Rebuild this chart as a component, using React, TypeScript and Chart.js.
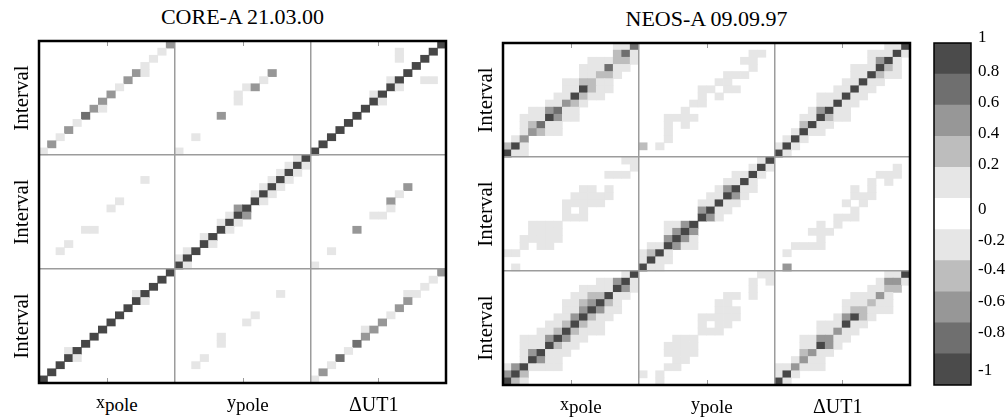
import React, { useEffect, useRef } from "react";
import { Chart, registerables } from "chart.js";

Chart.register(...registerables);

// ---------------- data ----------------
const panelTitles = ["CORE-A 21.03.00", "NEOS-A 09.09.97"];
const blockNames = ["x", "y", "ΔUT1"];
const blockSubscripts = ["pole", "pole", ""];
const rowAxisLabel = "Interval";
const intervalsPerBlock = 16;

// level code in the grids below -> correlation magnitude
const levelValues = [0, 0.15, 0.3, 0.5, 0.7, 0.95];

// colour bar
const colorbarTickValues = [1, 0.8, 0.6, 0.4, 0.2, 0, -0.2, -0.4, -0.6, -0.8, -1];
const colorbarTickPositions = [11.19, 10.07, 9.1, 8.1, 7.1, 5.63, 4.66, 3.7, 2.7, 1.7, 0.48];
const colorbarBands = [
  "#4b4b4b", "#6f6f6f", "#979797", "#bdbdbd", "#e6e6e6", "#ffffff",
  "#e6e6e6", "#bdbdbd", "#979797", "#6f6f6f", "#4b4b4b",
]; // top to bottom

// Correlation grids, top row first; columns x_pole | y_pole | ΔUT1 (16 intervals each)
// row blocks from top: ΔUT1, y_pole, x_pole
const coreARows = [
  "...............3 ................ ...............5",
  "..............1. ................ ..........1...5.",
  ".............1.. ................ ..........1..5..",
  "............1... ................ ............5...",
  "...........31... ...........3.... ...........5....",
  "..........3..... ..........1..... .........15..11.",
  ".........1...... ........13...... .........51.....",
  "........3....... .......1........ .......15.......",
  ".......3........ .......1........ .......51.......",
  "......31........ ................ ......5.........",
  ".....4.......... .....3.......... .....5..........",
  "....1........... ................ ....5...........",
  "...3............ ................ ...5............",
  "..1............. ..1............. ..5.............",
  ".3.............. ................ .5..............",
  "1............... 1............... 5...............",
  "................ ..............15 ................",
  "................ .............151 ................",
  "................ ............151. ................",
  "............1... ...........151.. ................",
  "................ ..........151... ...........3....",
  "................ .........151.... ..........1.....",
  ".........1...... .........51..... .........3......",
  "........1....... .......35....... .........1......",
  "................ ......153....... .......11.......",
  "................ .....151........ ................",
  ".....11......... .....51......... .....3..........",
  "................ ...15........... ................",
  "...1............ ...51........... ................",
  "..1............. .15............. ..1.............",
  "................ 15.............. ................",
  "................ 51.............. 1...............",
  "...............5 ................ ...............3",
  "..............5. ................ ..............1.",
  ".............5.. ................ .............1..",
  "...........15... ............1... ...........11...",
  "...........51... ................ ...........3....",
  "..........5..... ................ ..........3.....",
  ".........5...... .........1...... .........1......",
  "........5....... ........1....... ........3.......",
  ".......5........ ................ ......13........",
  "......5......... .....1.......... ......3.........",
  ".....5.......... .....1.......... .....4..........",
  "...15........... ................ ....1...........",
  "...51........... ...1............ ...4............",
  "..5............. ..1............. ..1.............",
  ".5.............. ................ .3..............",
  "5............... ................ 1...............",
];

const neosARows = [
  ".............114 ................ .............115",
  ".............241 .............11. ...........11151",
  "..........111221 ............11.. ...........1351.",
  ".........111411. .............1.. .........111521.",
  ".........11221.. ..........111... .........115211.",
  ".......112211... .........11..... ........11511...",
  ".......115211... .......11.11.... .......11511....",
  "......115211.... .......1.1...... .....111511.....",
  ".....11321...... ......11........ .....11511......",
  "...113411....... .....1.......... ....13511.......",
  "..1115311....... ...1111......... ...115211.......",
  "..12411......... ...1.1.......... ...2511.........",
  "..13211......... ...1............ ..1511..........",
  ".13............. ...1............ .151............",
  "251............. 2.1............. 151.............",
  "511............. ................ 51..............",
  "..............11 ..............15 ................",
  "...............1 .............151 ..............1.",
  "............111. ...........1151. ............111.",
  "................ ..........1151.. ...........1.1..",
  ".........11.1... .........13511.. .........1.1....",
  "........11111... ........11531... .........111....",
  ".......11111.... .......11511.... ........1.1.....",
  ".......1.1...... .......3511..... .........1......",
  ".......111...... .......531...... .......111......",
  "...1111......... ...1135......... .....1.1........",
  "...1111......... ...1353......... ....111.........",
  "..11111......... ...3531......... .....1..........",
  "..1.11.......... .115311......... ..1111..........",
  "11.............. 1251............ .1..............",
  "................ 1511............ ................",
  ".1.............. 511............. .3..............",
  "..............15 ..............11 .............115",
  "...........11351 .............1.1 ............1331",
  ".........1111531 .............1.. ...........1122.",
  "........1122511. ..........11.1.. .........11131..",
  ".......1123521.. .........11..... ........111211..",
  ".......1135311.. .........111.... ........122111..",
  "......1135211... .......11111.... .......13521....",
  ".....1125211.... .......1.11..... .....111511.....",
  "....11252111.... .......111...... .....11311......",
  "..11135311...... ....111......... ...113311.......",
  "..1115211....... ...1111......... ...11531........",
  "..135111........ ...1111......... ...2311.........",
  "..15311......... ....11.......... ..1311..........",
  "1351111......... ...11........... 113111..........",
  "352............. 1.1............. 151.............",
  "521............. ..1............. 51..............",
];

// ---------------- layout / style ----------------
const FONT = '"Liberation Serif", "Times New Roman", serif';
const PLOT_W = 407;
const PLOT_H = 342;
const PAD = 10;
const panelLayout = [
  { left: 39, top: 41 },
  { left: 503, top: 43 },
];
const xLabelLeft = [57, 188, 310];
const GRID_COLOR = "#9c9c9c";
const CLEAR = "rgba(255,255,255,0)";

function shade(v: number): string {
  const a = Math.abs(v);
  if (a >= 0.8) return "#474747";
  if (a >= 0.6) return "#6f6f6f";
  if (a >= 0.4) return "#979797";
  if (a >= 0.2) return "#bdbdbd";
  if (a >= 0.1) return "#e6e6e6";
  return CLEAR;
}

// m[r][c], r counted from the bottom
function parseMatrix(rows: string[]): number[][] {
  const clean = rows.map((s) => s.replace(/ /g, ""));
  const parsed = clean.map((s) =>
    s.split("").map((ch) => (ch === "." ? 0 : levelValues[Number(ch)] ?? 0))
  );
  return parsed.reverse();
}

const framePlugin = {
  id: "frame",
  afterDraw(chart: any, _args: any, opts: any) {
    const { ctx, chartArea } = chart;
    const { left, top, right, bottom } = chartArea;
    ctx.save();
    if (opts && opts.blockTicks) {
      const xs = chart.scales.x;
      ctx.strokeStyle = GRID_COLOR;
      ctx.lineWidth = 1;
      for (let b = 0; b < 3; b++) {
        const px = Math.round(xs.getPixelForValue(b * intervalsPerBlock + 7.5)) + 0.5;
        ctx.beginPath();
        ctx.moveTo(px, top);
        ctx.lineTo(px, top + 5);
        ctx.moveTo(px, bottom);
        ctx.lineTo(px, bottom - 5);
        ctx.stroke();
      }
    }
    ctx.strokeStyle = "#000";
    ctx.lineWidth = (opts && opts.width) || 2.5;
    ctx.strokeRect(left, top, right - left, bottom - top);
    ctx.restore();
  },
};

function Heatmap({ rows }: { rows: string[] }) {
  const ref = useRef<HTMLCanvasElement | null>(null);
  useEffect(() => {
    if (!ref.current) return;
    const m = parseMatrix(rows);
    const n = m.length;
    const labels = m[0].map((_, c) => String(c + 1));
    const datasets = m.map((rowVals, r) => ({
      data: rowVals.map(() => [r, r + 1]),
      backgroundColor: rowVals.map(shade),
      borderWidth: 0,
      borderSkipped: false,
      barPercentage: 1,
      categoryPercentage: 1,
    }));
    const chart = new Chart(ref.current, {
      type: "bar",
      data: { labels, datasets: datasets as any },
      plugins: [framePlugin as any],
      options: {
        animation: false,
        responsive: false,
        layout: { padding: PAD },
        plugins: {
          legend: { display: false },
          tooltip: { enabled: false },
          frame: { blockTicks: true, width: 2.5 },
        } as any,
        scales: {
          x: {
            type: "category",
            stacked: true,
            offset: true,
            grid: {
              offset: true,
              z: 1,
              drawTicks: false,
              lineWidth: 1.5,
              color: (ctx: any) =>
                ctx.index > 0 && ctx.index < n && ctx.index % intervalsPerBlock === 0
                  ? GRID_COLOR
                  : CLEAR,
            },
            ticks: { display: false, autoSkip: false },
            border: { display: false },
          },
          y: {
            type: "linear",
            stacked: false,
            min: 0,
            max: n,
            grid: {
              z: 1,
              drawTicks: false,
              lineWidth: 1.5,
              color: (ctx: any) =>
                ctx.tick && ctx.tick.value > 0 && ctx.tick.value < n ? GRID_COLOR : CLEAR,
            },
            ticks: { display: false, stepSize: intervalsPerBlock },
            border: { display: false },
          },
        },
      } as any,
    });
    return () => chart.destroy();
  }, [rows]);
  return (
    <canvas
      ref={ref}
      width={PLOT_W + 2 * PAD}
      height={PLOT_H + 2 * PAD}
      style={{ width: PLOT_W + 2 * PAD, height: PLOT_H + 2 * PAD, display: "block" }}
    />
  );
}

function Colorbar() {
  const ref = useRef<HTMLCanvasElement | null>(null);
  useEffect(() => {
    if (!ref.current) return;
    const bottomUp = colorbarBands.slice().reverse();
    const datasets = bottomUp.map((color, i) => ({
      data: [[i, i + 1]],
      backgroundColor: color,
      borderWidth: 0,
      borderSkipped: false,
      barPercentage: 1,
      categoryPercentage: 1,
    }));
    const chart = new Chart(ref.current, {
      type: "bar",
      data: { labels: [""], datasets: datasets as any },
      plugins: [framePlugin as any],
      options: {
        animation: false,
        responsive: false,
        layout: { padding: { left: 10, right: 0, top: 43, bottom: 34 } },
        plugins: {
          legend: { display: false },
          tooltip: { enabled: false },
          frame: { blockTicks: false, width: 1.5 },
        } as any,
        scales: {
          x: { type: "category", stacked: true, display: false, offset: true },
          y: {
            type: "linear",
            position: "right",
            min: 0,
            max: colorbarBands.length,
            grid: { display: false, drawTicks: false },
            border: { display: false },
            afterBuildTicks: (scale: any) => {
              scale.ticks = colorbarTickPositions.map((v) => ({ value: v }));
            },
            afterFit: (scale: any) => {
              scale.width = 34;
            },
            ticks: {
              autoSkip: false,
              padding: 7,
              color: "#000",
              font: { family: FONT, size: 17 },
              callback: (_v: any, i: number) => String(colorbarTickValues[i]),
            },
          },
        },
      } as any,
    });
    return () => chart.destroy();
  }, []);
  return (
    <canvas ref={ref} width={81} height={419} style={{ width: 81, height: 419, display: "block" }} />
  );
}

export default function App() {
  const grids = [coreARows, neosARows];
  const blockH = PLOT_H / 3;
  return (
    <div
      style={{
        position: "absolute",
        left: 0,
        top: 0,
        width: 1005,
        height: 419,
        overflow: "hidden",
        background: "#fff",
        fontFamily: FONT,
        color: "#000",
      }}
    >
      {panelLayout.map((p, pi) => (
        <React.Fragment key={pi}>
          <div style={{ position: "absolute", left: p.left - PAD, top: p.top - PAD }}>
            <Heatmap rows={grids[pi]} />
          </div>
          <div
            style={{
              position: "absolute",
              left: p.left,
              width: PLOT_W,
              top: p.top - 35.4,
              textAlign: "center",
              fontSize: 22,
              lineHeight: "22px",
              whiteSpace: "nowrap",
            }}
          >
            {panelTitles[pi]}
          </div>
          {blockNames.map((name, bi) => (
            <div
              key={"x" + bi}
              style={{
                position: "absolute",
                left: p.left + xLabelLeft[bi],
                top: p.top + PLOT_H + 11.25,
                fontSize: 20,
                lineHeight: "20px",
                whiteSpace: "nowrap",
              }}
            >
              <span style={{ position: "relative", top: blockSubscripts[bi] ? -3 : 0, fontSize: blockSubscripts[bi] ? 18 : 20 }}>
                {name}
              </span>
              {blockSubscripts[bi] ? <span style={{ fontSize: 19 }}>{blockSubscripts[bi]}</span> : null}
            </div>
          ))}
          {blockNames.map((_, bi) => (
            <div
              key={"y" + bi}
              style={{
                position: "absolute",
                left: p.left - 17.8,
                top: p.top + blockH * bi + blockH / 2,
                transform: "translate(-50%, -50%) rotate(-90deg)",
                fontSize: 21,
                lineHeight: "21px",
                whiteSpace: "nowrap",
              }}
            >
              {rowAxisLabel}
            </div>
          ))}
        </React.Fragment>
      ))}
      <div style={{ position: "absolute", left: 924, top: 0 }}>
        <Colorbar />
      </div>
    </div>
  );
}
